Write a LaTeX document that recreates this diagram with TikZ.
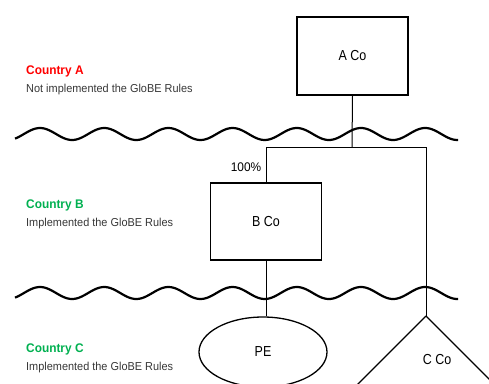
\documentclass[tikz,border=0pt]{standalone}
\usepackage{fontspec}
\setmainfont{Liberation Sans}
\newfontfamily\narrowfont[FakeStretch=0.86]{Liberation Sans}
\newfontfamily\captionfont[FakeStretch=0.95]{Liberation Sans}
\usetikzlibrary{shapes.geometric}
\definecolor{redA}{RGB}{255,0,0}
\definecolor{greenBC}{RGB}{0,176,80}
\definecolor{note}{RGB}{55,55,55}
\begin{document}
\begin{tikzpicture}[x=1pt,y=-1pt,
  entity/.style={draw,line width=1.4pt,rectangle,minimum width=111pt,minimum height=78pt,inner sep=0pt,
    font=\narrowfont\fontsize{14.5}{16}\selectfont},
  pebox/.style={draw,line width=1.3pt,ellipse,minimum width=128pt,minimum height=70pt,inner sep=0pt,
    font=\narrowfont\fontsize{14.5}{16}\selectfont},
  conn/.style={line width=1pt},
  border/.style={line width=2.2pt},
  country/.style={anchor=west,inner sep=0pt,font=\captionfont\bfseries\fontsize{12.5}{14}\selectfont},
  rules/.style={anchor=west,inner sep=0pt,text=note,font=\captionfont\fontsize{11.5}{13}\selectfont},
  label/.style={inner sep=0pt,font=\captionfont\fontsize{12.5}{14}\selectfont}]
\useasboundingbox (0,0) rectangle (489,383);
\begin{scope}
\clip (0,0) rectangle (489,383);

% country captions
\node[country,text=redA] (ca) at (26,71) {Country A};
\node[rules] (ra) at (26,90) {Not implemented the GloBE Rules};
\node[country,text=greenBC] (cb) at (26,205) {Country B};
\node[rules] (rb) at (26,224) {Implemented the GloBE Rules};
\node[country,text=greenBC] (cc) at (26,349) {Country C};
\node[rules] (rc) at (26,368) {Implemented the GloBE Rules};

% entities
\node[entity] (aco) at (352.5,56) {A Co};
\node[entity,minimum height=77pt] (bco) at (266,221.5) {B Co};
\node[pebox] (pe) at (263,352) {PE};
\coordinate (capex) at (426,316);
\draw[line width=1.3pt] (capex) -- ++(-80,80);
\draw[line width=1.3pt] (capex) -- ++(80,80);
\node[inner sep=0pt,font=\narrowfont\fontsize{14.5}{16}\selectfont] (cco) at (437,360) {C Co};

% ownership lines
\coordinate (bar) at (352,147);
\draw[conn] (aco.south) -- (bar);
\draw[conn] (bco.north) -- (bco.north |- bar) -- (capex |- bar) -- (capex);
\draw[conn] (bco.south) -- (bco.south |- pe.north);
\node[label] (pct) at (246,167) {100\%};

% borders between countries (wavelength 64.2pt)
\draw[border] plot[domain=15:458,samples=220,smooth] (\x,{134-6*cos(5.6075*(\x-40))});
\draw[border] plot[domain=15:458,samples=220,smooth] (\x,{293-6*cos(5.6075*(\x-40))});
\end{scope}
\end{tikzpicture}
\end{document}
